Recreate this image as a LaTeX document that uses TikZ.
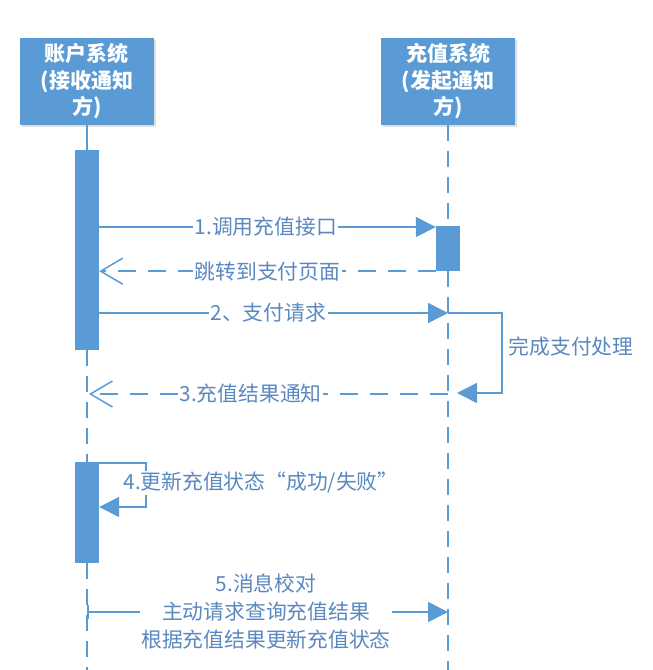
\documentclass[tikz,border=0pt]{standalone}
\usepackage{fontspec}
\setmainfont{Noto Sans CJK SC}
\usetikzlibrary{arrows.meta,shadows}
\definecolor{sblue}{HTML}{5B9BD5}
\definecolor{tblue}{HTML}{5A88C0}
\begin{document}
\begin{tikzpicture}[x=1pt,y=-1pt,
  header/.style={fill=sblue, draw=none, text=white, font=\fontsize{21}{26.5}\selectfont\bfseries,
    align=center, minimum width=134pt, minimum height=87pt, inner sep=0pt,
    drop shadow={shadow xshift=1.5pt, shadow yshift=-1.5pt, opacity=0.25}},
  actbar/.style={fill=sblue, draw=none, minimum width=24pt, inner sep=0pt},
  msg/.style={draw=sblue, line width=1.5pt},
  retmsg/.style={msg, dash pattern=on 18pt off 12pt},
  life/.style={draw=sblue, line width=1.8pt, dash pattern=on 16pt off 10pt},
  lbl/.style={fill=white, text=tblue, font=\fontsize{20.8}{28}\selectfont, inner sep=1.5pt, align=center},
  ftip/.style={-{Triangle[length=20pt,width=20pt]}},
  otip/.style={-{Straight Barb[length=22pt,width=26pt,line width=1.5pt]}}
]
\useasboundingbox (0,0) rectangle (653,670);

% headers
\node[header] (A) at (87,81.5) {账户系统\\(接收通知\\方)};
\node[header] (B) at (448,81.5) {充值系统\\(发起通知\\方)};

% row coordinates
\coordinate (Aend) at (87,670);
\coordinate (Bend) at (448,670);
\coordinate (y1) at (0,227);
\coordinate (y2) at (0,313);
\coordinate (y3) at (0,394);
\coordinate (y4a) at (0,463);
\coordinate (y4b) at (0,507);
\coordinate (y5) at (0,612);
\coordinate (loopR1) at (502,313);
\coordinate (loopR2) at (502,393);
\coordinate (loopEnd) at (457,393);
\coordinate (loopL1) at (146,463);
\coordinate (loopL2) at (146,507);
\coordinate (L1c) at (87,250);
\coordinate (L2c) at (87,512.5);
\coordinate (R1c) at (448,248.5);

% lifelines
\draw[sblue, line width=1.8pt] (A.south) -- (L1c |- 0,150);
\draw[life] (L1c |- 0,350) -- (L2c |- 0,462);
\draw[life] (L2c |- 0,563) -- (Aend);
\draw[life] (B.south) -- (R1c |- 0,226);
\draw[life] (R1c |- 0,271) -- (Bend);

% activation bars
\node[actbar, minimum height=200pt] (L1) at (L1c) {};
\node[actbar, minimum height=101pt] (L2) at (L2c) {};
\node[actbar, minimum height=45pt] (R1) at (R1c) {};

% 1
\draw[msg, ftip] (L1.east |- y1) -- (R1.west |- y1)
  node[lbl, pos=0.495] (m1) {1.调用充值接口};
% return
\draw[retmsg, otip] (R1.south west) -- (L1.east |- R1.south)
  node[lbl, pos=0.5] (m1r) {跳转到支付页面};
% 2
\draw[msg, ftip] (L1.east |- y2) -- (B |- y2)
  node[lbl, pos=0.485] (m2) {2、支付请求};
% self loop on right
\draw[msg, ftip] (B |- y2) -- (loopR1) -- (loopR2) -- (loopEnd);
\node[lbl, anchor=west] (m2s) at (507,347) {完成支付处理};
% 3
\draw[retmsg, otip] (B |- y3) -- ([xshift=2pt]A |- y3)
  node[lbl, pos=0.55] (m3) {3.充值结果通知};
% 4 self loop on left
\draw[msg, ftip] (L2.east |- y4a) -- (loopL1) -- (loopL2) -- (L2.east |- y4b);
\node[lbl] (m4) at (261,483) {4.更新充值状态“成功/失败”};
% 5
\draw[msg, {Bar[width=14pt,line width=1.5pt]}-{Triangle[length=20pt,width=20pt]}] (A |- y5) -- (B |- y5);
\node[lbl] (m5) at (266,612) {5.消息校对\\主动请求查询充值结果\\根据充值结果更新充值状态};
\end{tikzpicture}
\end{document}
